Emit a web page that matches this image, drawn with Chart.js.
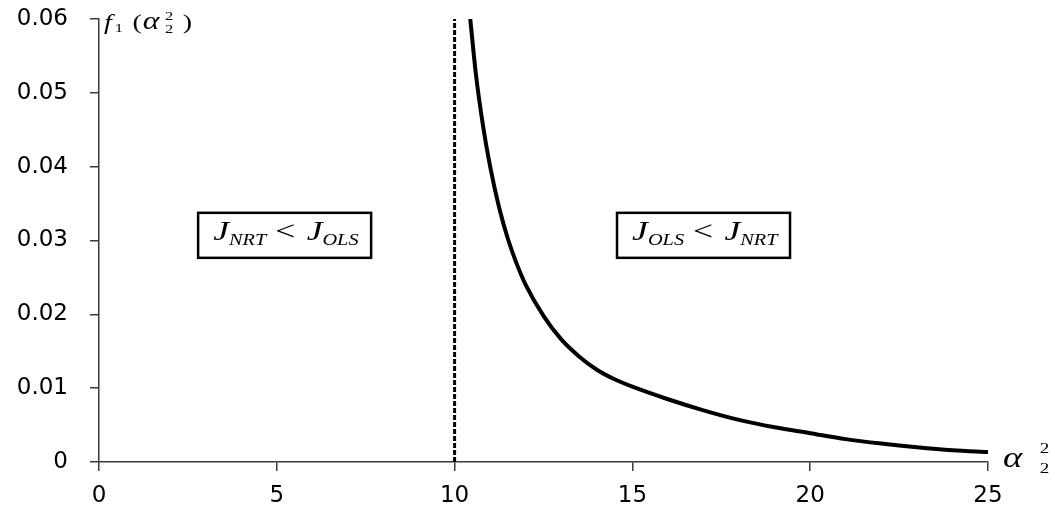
<!DOCTYPE html>
<html>
<head>
<meta charset="utf-8">
<script src="https://cdn.jsdelivr.net/npm/chart.js@4.4.1/dist/chart.umd.min.js"></script>
<style>
  html, body { margin: 0; padding: 0; background: #fff; }
  #wrap { width: 1055px; height: 511px; position: relative; }
</style>
</head>
<body>
<div id="wrap"><canvas id="myChart" width="1055" height="511"></canvas></div>
<script>
// curve f1(alpha2^2)
var curveX = [10.44, 10.6, 10.8, 11.0, 11.25, 11.5, 11.75, 12.0, 12.5, 13.0, 13.5, 14.0, 14.5, 15, 16, 17, 18, 19, 20, 21, 22, 23, 24, 25];
var curveY = [0.060, 0.0525, 0.0455, 0.0400, 0.0345, 0.0302, 0.0268, 0.0240, 0.0198, 0.0166, 0.0143, 0.0125, 0.0112, 0.0102, 0.0085, 0.0070, 0.0057, 0.0047, 0.0039, 0.0031, 0.0025, 0.0020, 0.0016, 0.00135];

// dashed boundary at alpha2^2 = 10
var boundX = [10, 10];
var boundY = [0, 0.06];

var xTicks = [0, 5, 10, 15, 20, 25];
var yTicks = [0, 0.01, 0.02, 0.03, 0.04, 0.05, 0.06];

// region labels: [x, y, first subscript, second subscript]
var regionLabels = [
    [5.22, 0.0307, "NRT", "OLS"],
    [17.0, 0.0307, "OLS", "NRT"]
];

var curveData = curveX.map(function(x, i){ return {x: x, y: curveY[i]}; });
var boundData = boundX.map(function(x, i){ return {x: x, y: boundY[i]}; });

var axisColor = '#3a3a3a';
var serif = '"Liberation Serif", "DejaVu Serif", serif';
var stretch = 1.27; // the original text is wide

// draws pieces [font, text, dx, dy] stretched horizontally from (x, y)
function drawPieces(ctx, x, y, pieces){
    ctx.save();
    ctx.translate(x, y);
    ctx.scale(stretch, 1);
    ctx.fillStyle = '#000';
    ctx.textAlign = 'left';
    ctx.textBaseline = 'alphabetic';
    pieces.forEach(function(p){
        ctx.font = p[0];
        ctx.fillText(p[1], p[2], p[3]);
    });
    ctx.restore();
}

function drawBox(ctx, cx, cy, subA, subB){
    var big = 'italic 28px ' + serif;
    var small = 'italic 16px ' + serif;
    var rel = '28px ' + serif;
    var parts = [[big, 'J', 0, 2], [small, subA, 5, 0], [rel, ' < ', 0, 0], [big, 'J', 0, 2], [small, subB, 5, 0]];
    var pieces = [], w = 0;
    parts.forEach(function(p){
        ctx.font = p[0];
        pieces.push([p[0], p[1], w + p[3], p[2]]);
        w += ctx.measureText(p[1]).width + p[3];
    });
    var bw = 173, bh = 45;
    ctx.save();
    ctx.fillStyle = '#fff';
    ctx.fillRect(cx - bw/2, cy - bh/2, bw, bh);
    ctx.strokeStyle = '#000';
    ctx.lineWidth = 2.5;
    ctx.strokeRect(cx - bw/2, cy - bh/2, bw, bh);
    ctx.restore();
    drawPieces(ctx, cx - w * stretch / 2, cy + 5, pieces);
}

var annotate = {
    id: 'annotate',
    afterDraw: function(chart){
        var ctx = chart.ctx;
        var xs = chart.scales.x, ys = chart.scales.y;
        var a = chart.chartArea;

        regionLabels.forEach(function(r){
            drawBox(ctx, xs.getPixelForValue(r[0]), ys.getPixelForValue(r[1]), r[2], r[3]);
        });

        // y axis title f1(alpha2^2)
        drawPieces(ctx, a.left + 5, a.top + 10, [
            ['italic 22px ' + serif, 'f', 0, 0],
            ['13px ' + serif, '1', 8.5, 3],
            ['22px ' + serif, '(', 22.5, 0],
            ['italic 25px ' + serif, '\u03b1', 30.5, 0],
            ['13px ' + serif, '2', 48, -9],
            ['13px ' + serif, '2', 48, 4],
            ['22px ' + serif, ')', 62, 0]
        ]);

        // x axis title alpha2^2
        drawPieces(ctx, a.right + 15, a.bottom + 5, [
            ['italic 29px ' + serif, '\u03b1', 0, 0],
            ['15px ' + serif, '2', 29, -14],
            ['15px ' + serif, '2', 29, 6]
        ]);
    }
};

var ctx = document.getElementById('myChart').getContext('2d');
var myChart = new Chart(ctx, {
    type: 'line',
    data: {
        datasets: [
            {
                data: curveData,
                borderColor: '#000',
                borderWidth: 4,
                pointRadius: 0,
                cubicInterpolationMode: 'monotone',
                fill: false
            },
            {
                data: boundData,
                borderColor: '#000',
                borderWidth: 3,
                borderDash: [5, 2],
                pointRadius: 0,
                fill: false
            }
        ]
    },
    options: {
        responsive: false,
        animation: false,
        layout: { padding: { top: 19, right: 67, left: 0, bottom: 0 } },
        plugins: {
            legend: { display: false },
            tooltip: { enabled: false }
        },
        scales: {
            x: {
                type: 'linear',
                min: 0, max: 25,
                afterBuildTicks: function(s){ s.ticks = xTicks.map(function(v){ return {value: v}; }); },
                afterFit: function(s){ s.height = 49; },
                grid: { drawOnChartArea: false, drawTicks: true, tickLength: 9, color: axisColor, lineWidth: 1.5 },
                border: { color: axisColor, width: 1.5 },
                ticks: { color: '#000', padding: 11, maxRotation: 0, font: { family: '"DejaVu Sans", Verdana, sans-serif', size: 23 } }
            },
            y: {
                min: 0, max: 0.06,
                afterBuildTicks: function(s){ s.ticks = yTicks.map(function(v){ return {value: v}; }); },
                afterFit: function(s){ s.width = 99; s.paddingTop = 0; s.paddingBottom = 0; },
                grid: { drawOnChartArea: false, drawTicks: true, tickLength: 9, color: axisColor, lineWidth: 1.5 },
                border: { color: axisColor, width: 1.5 },
                ticks: {
                    color: '#000', padding: 22,
                    font: { family: '"DejaVu Sans", Verdana, sans-serif', size: 23 },
                    callback: function(v){ return v === 0 ? '0' : v.toFixed(2); }
                }
            }
        }
    },
    plugins: [annotate]
});
</script>
</body>
</html>
